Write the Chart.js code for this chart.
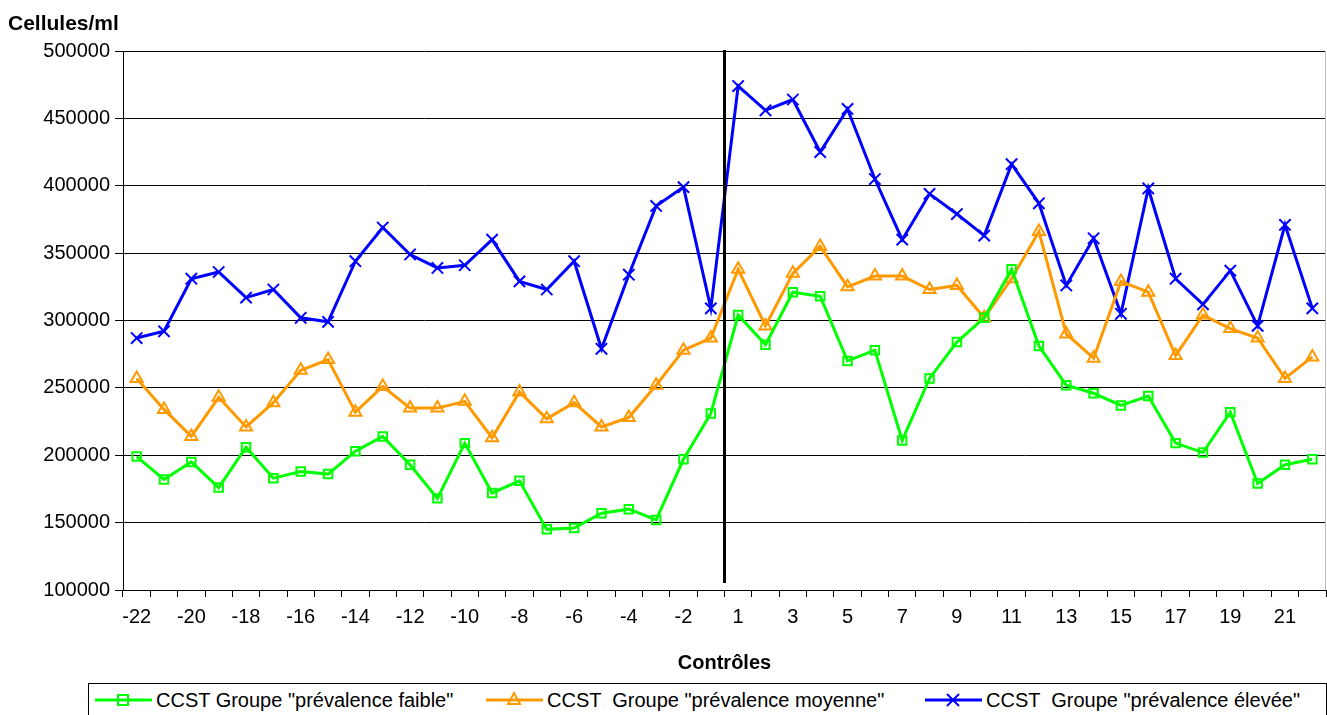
<!DOCTYPE html>
<html>
<head>
<meta charset="utf-8">
<script src="https://cdn.jsdelivr.net/npm/chart.js@4.4.1/dist/chart.umd.min.js"></script>
<style>
  body { margin: 0; background: #fff; font-family: 'Liberation Sans', Arial, sans-serif; }
  #wrap { position: relative; width: 1327px; height: 715px; overflow: hidden; }
  #ytitle { position: absolute; left: 8px; top: 11px; font-weight: bold; font-size: 21px; color: #000; }
  #legend { position: absolute; left: 88px; top: 683px; width: 1237px; height: 40px; border: 1px solid #000; }
  .item { position: absolute; top: 4px; display: flex; align-items: center; font-size: 20px; white-space: pre; color: #000; }
  .item svg { margin-right: 4px; }
</style>
</head>
<body>
<div id="wrap">
  <canvas id="c" width="1327" height="683"></canvas>
  <div id="ytitle">Cellules/ml</div>
  <div id="legend"></div>
</div>
<script>
// controls before / after (no 0)
const categories = ['-22','-21','-20','-19','-18','-17','-16','-15','-14','-13','-12','-11',
  '-10','-9','-8','-7','-6','-5','-4','-3','-2','-1',
  '1','2','3','4','5','6','7','8','9','10','11','12','13','14','15','16','17','18','19','20','21','22'];

// CCST Groupe "prévalence faible"
const faible = [199000,182000,195000,176000,206000,183000,188000,186000,203000,214000,193000,168000,
  209000,172000,181000,145000,146000,157000,160000,152000,197000,231000,
  304000,282000,321000,318000,270000,278000,211000,257000,284000,302000,338000,281000,
  252000,246000,237000,244000,209000,202000,232000,179000,193000,197000];

// CCST Groupe "prévalence moyenne"
const moyenne = [257000,234000,214000,243000,221000,239000,263000,271000,232000,251000,235000,235000,
  240000,213000,247000,227000,239000,221000,228000,252000,278000,287000,
  338000,296000,335000,355000,325000,333000,333000,323000,326000,302000,331000,366000,
  290000,272000,329000,321000,274000,304000,294000,287000,257000,273000];

// CCST Groupe "prévalence élevée"
const elevee = [287000,292000,331000,336000,317000,323000,302000,299000,344000,369000,349000,339000,
  341000,360000,329000,323000,344000,279000,334000,385000,399000,309000,
  474000,456000,464000,425000,457000,405000,360000,394000,379000,363000,416000,387000,
  326000,361000,305000,398000,331000,312000,337000,296000,371000,309000];

const seriesNames = ['CCST Groupe "prévalence faible"', 'CCST  Groupe "prévalence moyenne"', 'CCST  Groupe "prévalence élevée"'];
const seriesColors = ['#00FF00', '#FF9900', '#0000FF'];

Chart.defaults.font.family = "'Liberation Sans', Arial, sans-serif";
Chart.defaults.color = '#000';

// black separator between -1 and 1, plus light right border
const separator = {
  id: 'separator',
  afterDatasetsDraw(chart) {
    const { ctx, chartArea, scales } = chart;
    const x = (scales.x.getPixelForValue(21) + scales.x.getPixelForValue(22)) / 2;
    ctx.save();
    ctx.strokeStyle = '#000';
    ctx.lineWidth = 3;
    ctx.beginPath();
    ctx.moveTo(x, chartArea.top - 1);
    ctx.lineTo(x, chartArea.bottom - 7);
    ctx.stroke();
    ctx.strokeStyle = '#bdbdbd';
    ctx.lineWidth = 1;
    ctx.beginPath();
    ctx.moveTo(chartArea.right - 0.5, chartArea.top);
    ctx.lineTo(chartArea.right - 0.5, chartArea.bottom);
    ctx.stroke();
    ctx.restore();
  }
};

new Chart(document.getElementById('c'), {
  type: 'line',
  data: {
    labels: categories,
    datasets: [
      { label: seriesNames[0], data: faible, borderColor: seriesColors[0], backgroundColor: 'transparent',
        borderWidth: 3, pointStyle: 'rect', pointRadius: 6, pointBorderWidth: 2, pointBackgroundColor: 'transparent', tension: 0 },
      { label: seriesNames[1], data: moyenne, borderColor: seriesColors[1], backgroundColor: 'transparent',
        borderWidth: 3, pointStyle: 'triangle', pointRadius: 7, pointBorderWidth: 2, pointBackgroundColor: 'transparent', tension: 0 },
      { label: seriesNames[2], data: elevee, borderColor: seriesColors[2], backgroundColor: 'transparent',
        borderWidth: 3, pointStyle: 'crossRot', pointRadius: 8, pointBorderWidth: 2, tension: 0 }
    ]
  },
  options: {
    responsive: false,
    animation: false,
    layout: { autoPadding: false, padding: { top: 51, right: 1, bottom: 0, left: 0 } },
    plugins: { legend: { display: false }, tooltip: { enabled: false } },
    scales: {
      x: {
        offset: true,
        afterFit: (s) => { s.height = 93; s.paddingLeft = 0; s.paddingRight = 0; },
        border: { color: '#000', width: 1 },
        grid: { offset: true, drawOnChartArea: false, drawTicks: true, tickLength: 7, color: '#000' },
        ticks: {
          autoSkip: false, maxRotation: 0, padding: 8, font: { size: 20 },
          callback: (v, i) => (i % 2 === 0 ? categories[i] : '')
        },
        title: { display: true, text: 'Contrôles', font: { size: 20, weight: 'bold' }, padding: { top: 4, bottom: 8 } }
      },
      y: {
        min: 100000, max: 500000,
        afterFit: (s) => { s.width = 123; },
        border: { color: '#000', width: 1 },
        grid: { color: '#000', lineWidth: 1, tickLength: 8 },
        ticks: { stepSize: 50000, padding: 5, font: { size: 20 }, callback: (v) => String(v) }
      }
    }
  },
  plugins: [separator]
});

// legend (line + marker icons)
const markerSvg = [
  '<rect x="23" y="7" width="10" height="10" fill="none" stroke="#00FF00" stroke-width="2"/>',
  '<path d="M28 5 L34 16 L22 16 Z" fill="none" stroke="#FF9900" stroke-width="2"/>',
  '<path d="M22 6 L34 18 M34 6 L22 18" stroke="#0000FF" stroke-width="2"/>'
];
const legendLeft = [6, 397, 836];
const legend = document.getElementById('legend');
seriesNames.forEach((name, i) => {
  const el = document.createElement('div');
  el.className = 'item';
  el.style.left = legendLeft[i] + 'px';
  el.innerHTML = '<svg width="57" height="24"><line x1="0" y1="12" x2="57" y2="12" stroke="' + seriesColors[i] +
    '" stroke-width="3"/>' + markerSvg[i] + '</svg>';
  const t = document.createElement('span');
  t.textContent = name;
  el.appendChild(t);
  legend.appendChild(el);
});
</script>
</body>
</html>
